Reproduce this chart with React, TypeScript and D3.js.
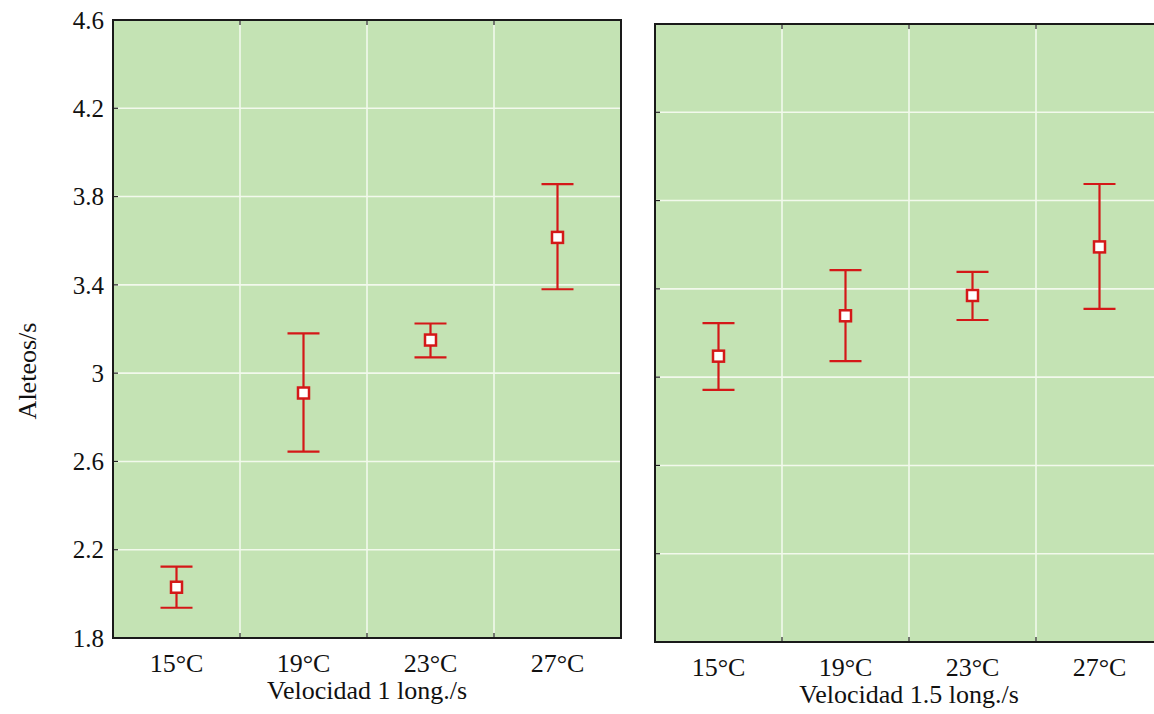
import React from "react";
import * as d3 from "d3";

const categories = ["15°C", "19°C", "23°C", "27°C"];
const yTicks = [1.8, 2.2, 2.6, 3.0, 3.4, 3.8, 4.2, 4.6];

const meanV1 = [2.03, 2.91, 3.15, 3.615];
const upperV1 = [2.123, 3.18, 3.225, 3.856];
const lowerV1 = [1.937, 2.644, 3.071, 3.38];

const meanV15 = [3.095, 3.278, 3.37, 3.59];
const upperV15 = [3.245, 3.485, 3.477, 3.875];
const lowerV15 = [2.942, 3.073, 3.259, 3.309];

const panelTitles = ["Velocidad 1 long./s", "Velocidad 1.5 long./s"];
const yTitle = "Aleteos/s";

const W = 1154;
const H = 714;
const FONT = "Liberation Serif";
const BG = "#c4e3b4";
const GRID = "#f2f9ec";
const RED = "#d41818";
const INK = "#111";

type PanelProps = {
  x0: number;
  x1: number;
  y0: number;
  y1: number;
  mean: number[];
  upper: number[];
  lower: number[];
  title: string;
  showYLabels: boolean;
  clipId: string;
};

const textStyle = { fontFamily: FONT, fontSize: "26px" };
const tickStyle = { fontFamily: FONT, fontSize: "25px" };

function Panel({ x0, x1, y0, y1, mean, upper, lower, title, showYLabels, clipId }: PanelProps) {
  const x = d3.scaleBand<string>().domain(categories).range([x0, x1]).padding(0);
  const y = d3.scaleLinear().domain([1.8, 4.6]).range([y1, y0]);
  const bw = x.bandwidth();
  const cap = 16;
  const sq = 11;
  const boundaries = categories.slice(1).map((c) => x(c) as number);
  return (
    <g>
      <clipPath id={clipId}>
        <rect x={x0} y={y0} width={x1 - x0} height={y1 - y0} />
      </clipPath>
      <rect x={x0} y={y0} width={x1 - x0} height={y1 - y0} fill={BG} />
      <g clipPath={`url(#${clipId})`}>
        {yTicks.map((t) => (
          <line key={t} x1={x0} x2={x1} y1={y(t)} y2={y(t)} stroke={GRID} strokeWidth={1.6} />
        ))}
        {boundaries.map((b, i) => (
          <line key={i} x1={b} x2={b} y1={y0} y2={y1} stroke={GRID} strokeWidth={1.6} />
        ))}
      </g>
      {yTicks.map((t) => (
        <line key={"yt" + t} x1={x0} x2={x0 + 5} y1={y(t)} y2={y(t)} stroke="#222" strokeWidth={1.2} />
      ))}
      {boundaries.map((b, i) => (
        <g key={"xt" + i}>
          <line x1={b} x2={b} y1={y1} y2={y1 - 5} stroke="#222" strokeWidth={1.2} />
          <line x1={b} x2={b} y1={y0} y2={y0 + 5} stroke="#222" strokeWidth={1.2} />
        </g>
      ))}
      <rect x={x0} y={y0} width={x1 - x0} height={y1 - y0} fill="none" stroke="#1a1a1a" strokeWidth={2} />
      {categories.map((c, i) => {
        const cx = (x(c) as number) + bw / 2;
        return (
          <g key={c}>
            <line x1={cx} x2={cx} y1={y(upper[i])} y2={y(lower[i])} stroke={RED} strokeWidth={2.2} />
            <line x1={cx - cap} x2={cx + cap} y1={y(upper[i])} y2={y(upper[i])} stroke={RED} strokeWidth={2.2} />
            <line x1={cx - cap} x2={cx + cap} y1={y(lower[i])} y2={y(lower[i])} stroke={RED} strokeWidth={2.2} />
            <rect x={cx - sq / 2} y={y(mean[i]) - sq / 2} width={sq} height={sq} fill="#fff" stroke={RED} strokeWidth={2.5} />
          </g>
        );
      })}
      {showYLabels &&
        yTicks.map((t) => (
          <text key={"yl" + t} x={x0 - 9} y={y(t)} dy="0.35em" textAnchor="end" style={tickStyle} fill={INK}>
            {d3.format("~g")(t)}
          </text>
        ))}
      {categories.map((c) => (
        <text key={"xl" + c} x={(x(c) as number) + bw / 2} y={y1 + 34} textAnchor="middle" style={textStyle} fill={INK}>
          {c}
        </text>
      ))}
      <text x={(x0 + x1) / 2} y={y1 + 61} textAnchor="middle" style={textStyle} fill={INK}>
        {title}
      </text>
    </g>
  );
}

export default function App() {
  return (
    <svg width={W} height={H} style={{ position: "absolute", left: 0, top: 0, background: "#fff" }}>
      <rect x={0} y={0} width={W} height={H} fill="#fff" />
      <Panel x0={113} x1={621} y0={20} y1={638} mean={meanV1} upper={upperV1} lower={lowerV1} title={panelTitles[0]} showYLabels={true} clipId="c1" />
      <Panel x0={655} x1={1163} y0={24} y1={642} mean={meanV15} upper={upperV15} lower={lowerV15} title={panelTitles[1]} showYLabels={false} clipId="c2" />
      <text transform="translate(36,371) rotate(-90)" textAnchor="middle" style={textStyle} fill={INK}>
        {yTitle}
      </text>
    </svg>
  );
}
